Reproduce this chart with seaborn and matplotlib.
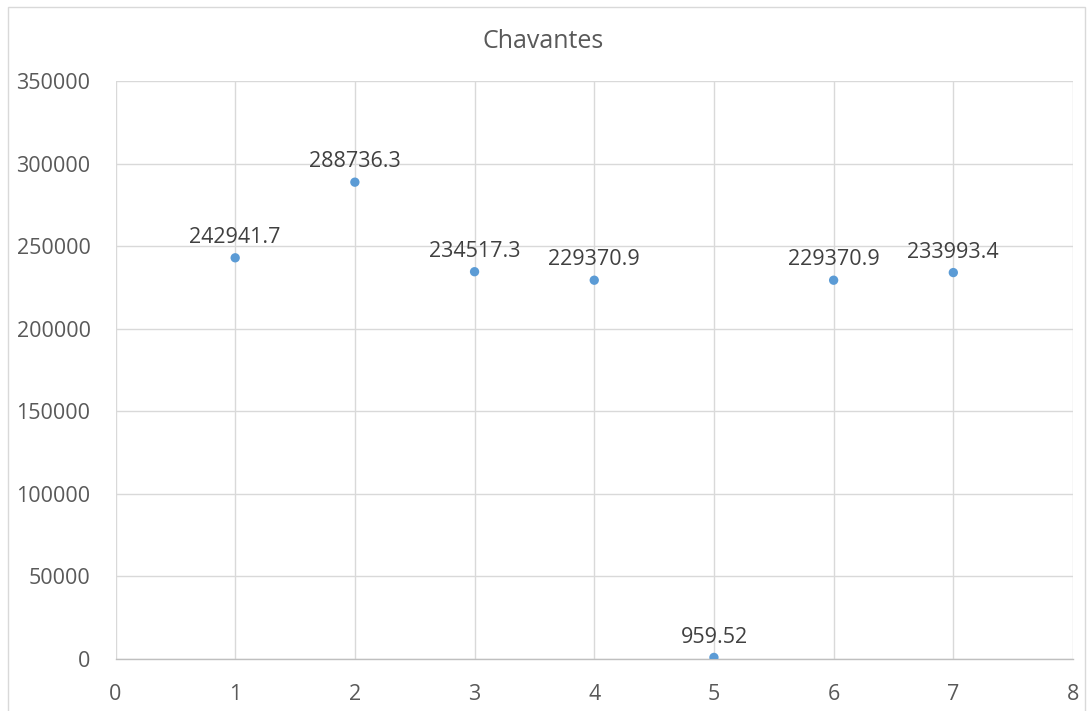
import matplotlib
matplotlib.use("Agg")
import matplotlib.pyplot as plt
import seaborn as sns
import pandas as pd
from matplotlib.patches import Rectangle

# Data
x_vals = [1, 2, 3, 4, 5, 6, 7]
y_vals = [242941.7, 288736.3, 234517.3, 229370.9, 959.52, 229370.9, 233993.4]
title = "Chavantes"

sns.set_style("white")
plt.rcParams['font.family'] = ['Open Sans', 'DejaVu Sans']

df = pd.DataFrame({"x": x_vals, "y": y_vals})

fig = plt.figure(figsize=(10.87, 7.11), dpi=100)
ax = fig.add_axes([115.5 / 1087, 52 / 711, (1073 - 115.5) / 1087, (659 - 81) / 711])

sns.scatterplot(data=df, x="x", y="y", ax=ax, color="#5b9bd5", s=45,
                edgecolor="none", zorder=3, legend=False)

# labels above points
for xv, yv in zip(x_vals, y_vals):
    ax.annotate(str(yv), (xv, yv), xytext=(0, 7), textcoords="offset points",
                ha="center", va="bottom", fontsize=15.5, color="#404040")

ax.set_xlim(0, 8)
ax.set_ylim(0, 350000)
ax.set_xticks(range(0, 9))
ax.set_yticks(range(0, 350001, 50000))
ax.grid(True, color="#d9d9d9", linewidth=1)
ax.set_axisbelow(True)
for side in ["top", "right", "left"]:
    ax.spines[side].set_visible(False)
ax.spines["bottom"].set_color("#bfbfbf")
ax.spines["bottom"].set_linewidth(1)
ax.tick_params(axis="both", length=0, labelsize=15.5, labelcolor="#595959")
ax.tick_params(axis="x", pad=18)
ax.tick_params(axis="y", pad=18)
ax.set_xlabel("")
ax.set_ylabel("")

fig.text(0.5, 1 - 41 / 711, title, ha="center", va="center",
         fontsize=18, color="#595959")

# outer chart border
fig.patches.append(Rectangle((8 / 1087, -0.05), (1085 - 8) / 1087, 1.05 - 7 / 711,
                             transform=fig.transFigure, fill=False,
                             edgecolor="#d9d9d9", linewidth=1))

fig.savefig("out.png", dpi=100)
